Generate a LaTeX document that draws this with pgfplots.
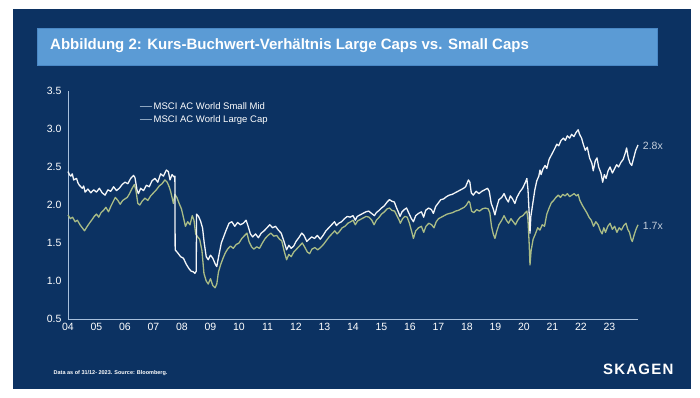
\documentclass[border=0pt]{standalone}
\usepackage{pgfplots}
\pgfplotsset{compat=1.18}
\usepackage{pgfplotstable}
\usepackage{fontspec}
\setmainfont{Liberation Sans}
\definecolor{navy}{HTML}{0C3262}
\definecolor{titlebox}{HTML}{5B9BD5}
\definecolor{titleborder}{HTML}{4A88C6}
\definecolor{smallmid}{HTML}{A9BC86}
\definecolor{largecap}{HTML}{F4F6F8}
\definecolor{axisline}{HTML}{A8C0DC}
\definecolor{legline}{HTML}{8EA6C0}
\definecolor{annot}{HTML}{C5CFDB}

\pgfplotstableread{
x y
2004.00 2.44
2004.05 2.40
2004.10 2.38
2004.15 2.41
2004.20 2.33
2004.30 2.35
2004.35 2.29
2004.40 2.26
2004.50 2.22
2004.55 2.25
2004.60 2.17
2004.70 2.21
2004.80 2.16
2004.90 2.20
2005.00 2.17
2005.10 2.22
2005.20 2.16
2005.30 2.13
2005.40 2.20
2005.50 2.18
2005.60 2.24
2005.70 2.19
2005.80 2.22
2005.90 2.27
2006.00 2.30
2006.10 2.28
2006.20 2.35
2006.30 2.39
2006.35 2.36
2006.42 2.20
2006.47 2.15
2006.55 2.22
2006.65 2.19
2006.75 2.26
2006.85 2.24
2006.95 2.32
2007.05 2.35
2007.15 2.30
2007.25 2.41
2007.35 2.38
2007.45 2.46
2007.52 2.44
2007.58 2.33
2007.65 2.40
2007.72 2.37
2007.75 2.38
2007.76 1.41
2007.85 1.37
2007.95 1.32
2008.05 1.30
2008.15 1.22
2008.25 1.16
2008.32 1.13
2008.40 1.12
2008.45 1.10
2008.50 1.13
2008.51 1.88
2008.58 1.85
2008.65 1.79
2008.72 1.70
2008.78 1.50
2008.85 1.32
2008.92 1.28
2009.00 1.34
2009.08 1.30
2009.17 1.22
2009.22 1.19
2009.30 1.35
2009.38 1.50
2009.46 1.58
2009.55 1.67
2009.65 1.76
2009.75 1.78
2009.85 1.72
2009.95 1.77
2010.05 1.74
2010.15 1.76
2010.25 1.80
2010.32 1.72
2010.40 1.62
2010.48 1.58
2010.58 1.62
2010.68 1.57
2010.78 1.63
2010.88 1.66
2010.98 1.70
2011.08 1.74
2011.18 1.70
2011.28 1.72
2011.38 1.67
2011.48 1.63
2011.58 1.52
2011.67 1.41
2011.75 1.47
2011.83 1.43
2011.92 1.46
2012.00 1.52
2012.10 1.57
2012.20 1.63
2012.28 1.60
2012.38 1.52
2012.46 1.55
2012.55 1.58
2012.65 1.56
2012.75 1.60
2012.85 1.55
2012.95 1.60
2013.05 1.66
2013.15 1.70
2013.25 1.74
2013.35 1.78
2013.42 1.73
2013.50 1.76
2013.60 1.78
2013.70 1.82
2013.80 1.85
2013.90 1.84
2014.00 1.86
2014.08 1.80
2014.15 1.85
2014.25 1.87
2014.35 1.89
2014.45 1.91
2014.55 1.92
2014.65 1.89
2014.75 1.86
2014.82 1.90
2014.92 1.93
2015.00 1.96
2015.10 1.99
2015.20 2.04
2015.28 2.07
2015.36 2.05
2015.45 2.04
2015.52 1.97
2015.60 1.90
2015.65 1.85
2015.72 1.91
2015.80 1.94
2015.88 1.96
2015.95 1.90
2016.05 1.82
2016.12 1.78
2016.20 1.86
2016.30 1.89
2016.40 1.91
2016.48 1.84
2016.55 1.93
2016.65 1.96
2016.75 1.94
2016.82 1.89
2016.90 1.98
2017.00 2.03
2017.08 2.07
2017.18 2.08
2017.28 2.11
2017.38 2.13
2017.48 2.14
2017.58 2.16
2017.68 2.18
2017.78 2.20
2017.88 2.22
2017.95 2.24
2018.05 2.33
2018.10 2.30
2018.15 2.16
2018.22 2.13
2018.32 2.18
2018.42 2.15
2018.52 2.18
2018.62 2.20
2018.72 2.22
2018.78 2.18
2018.85 2.02
2018.92 1.95
2018.98 1.87
2019.05 1.98
2019.12 2.07
2019.22 2.10
2019.30 2.15
2019.38 2.08
2019.45 2.04
2019.52 2.12
2019.60 2.08
2019.68 2.02
2019.75 2.10
2019.85 2.17
2019.95 2.22
2020.05 2.30
2020.10 2.35
2020.14 2.20
2020.18 1.90
2020.21 1.63
2020.24 1.85
2020.30 2.00
2020.38 2.20
2020.45 2.32
2020.52 2.38
2020.56 2.46
2020.60 2.40
2020.66 2.47
2020.74 2.52
2020.80 2.48
2020.88 2.60
2020.95 2.65
2021.02 2.70
2021.10 2.76
2021.15 2.80
2021.22 2.78
2021.30 2.85
2021.38 2.88
2021.45 2.85
2021.52 2.91
2021.60 2.88
2021.67 2.93
2021.75 2.90
2021.82 2.95
2021.90 2.99
2021.95 2.93
2022.02 2.88
2022.08 2.80
2022.15 2.72
2022.22 2.76
2022.30 2.62
2022.38 2.55
2022.43 2.45
2022.50 2.58
2022.56 2.62
2022.62 2.50
2022.70 2.42
2022.76 2.30
2022.82 2.40
2022.88 2.35
2022.95 2.45
2023.02 2.50
2023.10 2.42
2023.18 2.48
2023.25 2.53
2023.32 2.50
2023.40 2.56
2023.48 2.60
2023.55 2.68
2023.60 2.75
2023.66 2.62
2023.72 2.55
2023.78 2.52
2023.85 2.62
2023.92 2.72
2024.00 2.79
}\largecaps

\pgfplotstableread{
x y
2004.00 1.87
2004.08 1.82
2004.16 1.84
2004.25 1.78
2004.33 1.80
2004.42 1.74
2004.50 1.70
2004.58 1.66
2004.66 1.71
2004.75 1.76
2004.83 1.80
2004.92 1.85
2005.00 1.88
2005.08 1.84
2005.16 1.90
2005.25 1.93
2005.33 1.97
2005.42 1.91
2005.50 1.98
2005.58 2.04
2005.66 2.10
2005.75 2.06
2005.83 2.01
2005.92 2.06
2006.00 2.08
2006.08 2.10
2006.16 2.15
2006.25 2.22
2006.33 2.27
2006.38 2.20
2006.45 2.02
2006.52 2.00
2006.60 2.05
2006.70 2.09
2006.80 2.06
2006.90 2.12
2007.00 2.16
2007.10 2.20
2007.20 2.25
2007.30 2.28
2007.40 2.33
2007.48 2.30
2007.55 2.24
2007.60 2.18
2007.65 2.10
2007.70 2.02
2007.75 2.14
2007.82 2.10
2007.90 2.02
2007.98 1.95
2008.06 1.82
2008.12 1.72
2008.20 1.78
2008.28 1.74
2008.36 1.86
2008.42 1.80
2008.48 1.62
2008.55 1.58
2008.62 1.55
2008.70 1.40
2008.77 1.10
2008.85 1.00
2008.92 0.96
2009.00 1.03
2009.08 0.94
2009.16 0.91
2009.22 0.96
2009.28 1.12
2009.36 1.22
2009.44 1.30
2009.52 1.37
2009.60 1.42
2009.70 1.46
2009.80 1.43
2009.90 1.48
2010.00 1.50
2010.10 1.56
2010.20 1.60
2010.28 1.63
2010.35 1.52
2010.44 1.45
2010.52 1.42
2010.62 1.45
2010.72 1.43
2010.82 1.50
2010.92 1.56
2011.02 1.60
2011.12 1.63
2011.22 1.59
2011.32 1.60
2011.42 1.55
2011.50 1.53
2011.58 1.40
2011.67 1.28
2011.75 1.35
2011.83 1.32
2011.92 1.38
2012.02 1.42
2012.12 1.46
2012.22 1.50
2012.30 1.45
2012.40 1.38
2012.48 1.36
2012.56 1.42
2012.66 1.44
2012.76 1.41
2012.86 1.44
2012.96 1.48
2013.06 1.53
2013.16 1.58
2013.26 1.62
2013.36 1.66
2013.44 1.62
2013.52 1.65
2013.62 1.70
2013.72 1.72
2013.82 1.76
2013.92 1.78
2014.00 1.80
2014.08 1.74
2014.16 1.79
2014.26 1.81
2014.36 1.83
2014.46 1.85
2014.56 1.84
2014.66 1.80
2014.74 1.74
2014.82 1.80
2014.92 1.84
2015.00 1.88
2015.10 1.91
2015.20 1.95
2015.28 1.96
2015.36 1.93
2015.46 1.92
2015.54 1.86
2015.62 1.80
2015.66 1.76
2015.74 1.82
2015.82 1.85
2015.90 1.84
2015.98 1.76
2016.06 1.65
2016.12 1.56
2016.20 1.66
2016.30 1.70
2016.40 1.72
2016.48 1.64
2016.56 1.72
2016.66 1.76
2016.76 1.74
2016.84 1.70
2016.92 1.78
2017.00 1.82
2017.10 1.84
2017.20 1.86
2017.30 1.88
2017.40 1.89
2017.50 1.90
2017.60 1.92
2017.70 1.93
2017.80 1.95
2017.90 1.97
2017.98 2.00
2018.06 2.05
2018.10 2.03
2018.16 1.92
2018.24 1.90
2018.34 1.94
2018.44 1.92
2018.54 1.95
2018.64 1.96
2018.74 1.95
2018.80 1.90
2018.86 1.72
2018.92 1.62
2018.98 1.56
2019.05 1.66
2019.12 1.74
2019.22 1.80
2019.30 1.86
2019.38 1.80
2019.46 1.76
2019.54 1.82
2019.62 1.78
2019.70 1.74
2019.78 1.80
2019.86 1.84
2019.96 1.86
2020.05 1.90
2020.10 1.92
2020.14 1.80
2020.18 1.50
2020.21 1.21
2020.25 1.40
2020.32 1.55
2020.40 1.62
2020.48 1.70
2020.56 1.67
2020.64 1.74
2020.72 1.72
2020.80 1.88
2020.88 1.96
2020.96 2.03
2021.04 2.06
2021.12 2.10
2021.20 2.13
2021.28 2.10
2021.36 2.14
2021.44 2.12
2021.52 2.15
2021.60 2.11
2021.68 2.13
2021.76 2.15
2021.84 2.12
2021.90 2.14
2021.96 2.06
2022.04 2.00
2022.12 1.95
2022.20 1.90
2022.28 1.84
2022.36 1.80
2022.44 1.72
2022.52 1.78
2022.60 1.74
2022.68 1.66
2022.74 1.62
2022.80 1.70
2022.86 1.64
2022.94 1.72
2023.02 1.76
2023.10 1.68
2023.18 1.72
2023.26 1.64
2023.34 1.70
2023.42 1.67
2023.50 1.73
2023.58 1.76
2023.64 1.68
2023.70 1.64
2023.76 1.55
2023.80 1.52
2023.86 1.60
2023.93 1.68
2024.00 1.74
}\smallmids

\begin{document}
\begin{tikzpicture}
\path[use as bounding box] (0pt,0pt) rectangle (700pt,397pt);
\fill[white] (0pt,0pt) rectangle (700pt,397pt);
\fill[navy] (12.5pt,8pt) rectangle (691pt,388pt);
\filldraw[fill=titlebox, draw=titleborder, line width=0.8pt] (37.5pt,332pt) rectangle (657pt,369pt);
\node[anchor=west, text=white, font=\bfseries\fontsize{15}{17}\selectfont, inner sep=0pt] at (50pt,351pt) {Abbildung 2: Kurs-Buchwert-Verhältnis Large Caps vs. Small Caps};
\node[anchor=west, text=white, font=\bfseries\fontsize{5.5}{6}\selectfont, inner sep=0pt] at (53.5pt,24pt) {Data as of 31/12- 2023. Source: Bloomberg.};
\node[anchor=west, text=white, inner sep=0pt] at (603pt,27.5pt) {\fontsize{15}{16}\bfseries\addfontfeatures{LetterSpace=8}SKAGEN};
\begin{axis}[
  at={(68pt,78pt)}, anchor=south west,
  scale only axis, width=570pt, height=228pt,
  xmin=2004, xmax=2024, ymin=0.5, ymax=3.5,
  axis x line=bottom, axis y line=left,
  axis line style={color=axisline, line width=0.8pt, -},
  major tick length=0pt,
  xtick={2004,...,2023},
  xticklabels={04,05,06,07,08,09,10,11,12,13,14,15,16,17,18,19,20,21,22,23},
  ytick={0.5,1.0,1.5,2.0,2.5,3.0,3.5},
  /pgf/number format/assume math mode=true,
  yticklabel style={/pgf/number format/fixed, /pgf/number format/fixed zerofill, /pgf/number format/precision=1, xshift=-3pt},
  tick label style={text=white, font=\fontsize{10.5}{12}\selectfont},
  xticklabel style={yshift=-1pt},
  clip=false,
  legend style={at={(0.1246,0.956)}, anchor=north west, draw=none, fill=none, text=white, font=\fontsize{9.5}{11}\selectfont, inner sep=0pt, row sep=1pt, nodes={inner sep=1.5pt}},
  legend cell align=left,
  legend image code/.code={\draw[legline, line width=1pt] (0pt,0pt) -- (12pt,0pt);},
]
\addlegendimage{legline}
\addlegendentry{MSCI AC World Small Mid}
\addlegendimage{legline}
\addlegendentry{MSCI AC World Large Cap}
\addplot[color=smallmid, line width=1.3pt, line join=round, forget plot] table[x=x,y=y] {\smallmids};
\addplot[color=largecap, line width=1.3pt, line join=round, forget plot] table[x=x,y=y] {\largecaps};
\node[anchor=west, text=annot, font=\fontsize{10.5}{12}\selectfont] at (axis cs:2024.05,2.78) {2.8x};
\node[anchor=west, text=annot, font=\fontsize{10.5}{12}\selectfont] at (axis cs:2024.05,1.72) {1.7x};
\end{axis}
\end{tikzpicture}
\end{document}
